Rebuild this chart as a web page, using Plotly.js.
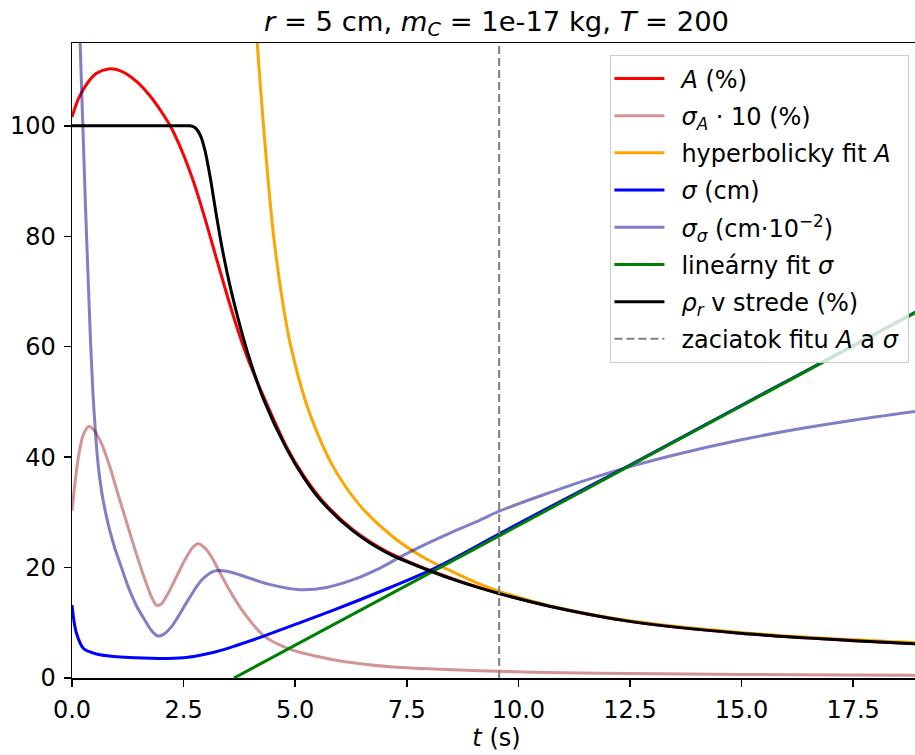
<!DOCTYPE html>
<html>
<head>
<meta charset="utf-8">
<script src="https://cdn.plot.ly/plotly-3.0.1.min.js"></script>
<style>
html, body { margin: 0; padding: 0; overflow: hidden; background: #fff; }
#chart { width: 921px; height: 755px; }
</style>
</head>
<body>
<div id="chart"></div>
<script>
// ---- data ----
// A (%)
const tA = [0, 0.15, 0.35, 0.55, 0.82, 1.1, 1.45, 1.75, 2.0, 2.2, 2.45, 2.7, 2.95, 3.2, 3.45, 3.7, 3.95, 4.29, 4.81, 5.2, 5.6, 6.3, 7.05, 7.95, 8.7, 9.57, 10.7, 12.46, 14.97, 17.43, 19.02];
const vA = [101.6, 105.0, 107.8, 109.5, 110.3, 109.9, 108.0, 105.4, 102.6, 100.0, 95.7, 90.4, 84.0, 77.0, 70.0, 63.4, 57.6, 51.0, 41.8, 36.5, 32.2, 26.8, 22.9, 19.7, 17.5, 15.3, 13.0, 10.3, 8.1, 6.8, 6.15];
// sigma_A * 10 (%)
const tSigA = [0, 0.07, 0.14, 0.25, 0.38, 0.5, 0.66, 0.85, 1.03, 1.22, 1.41, 1.6, 1.75, 1.89, 2.0, 2.15, 2.35, 2.53, 2.7, 2.83, 2.97, 3.12, 3.3, 3.5, 3.87, 4.32, 4.96, 5.5, 6.08, 7.2, 8.69, 9.57, 11.0, 12.5, 15.0, 17.5, 19.02];
const vSigA = [30.3, 35.5, 39.8, 44.0, 45.6, 44.8, 42.5, 38.2, 33.3, 28.3, 23.3, 18.6, 15.3, 13.2, 13.4, 15.3, 18.5, 21.4, 23.6, 24.3, 23.6, 22.0, 19.3, 16.3, 11.6, 7.5, 5.0, 3.9, 3.0, 2.0, 1.45, 1.2, 0.95, 0.8, 0.65, 0.55, 0.48];
// hyperbolic fit of A
const tHyp = [3.95, 4.15, 4.3, 4.51, 4.74, 4.89, 5.22, 5.5, 5.8, 6.1, 6.53, 7.2, 7.95, 8.7, 9.14, 9.57, 10.7, 12.46, 14.97, 17.43, 19.02];
const vHyp = [140, 115.0, 99, 80.5, 67, 60.5, 50.4, 44.3, 39.0, 35.0, 30.5, 25.5, 21.5, 18.6, 17.0, 15.7, 13.1, 10.4, 8.25, 6.95, 6.35];
// sigma (cm)
const tSig = [0, 0.05, 0.10, 0.25, 0.45, 0.66, 1.0, 1.41, 2.15, 2.6, 2.9, 3.25, 3.65, 4.2, 4.9, 5.8, 7.1, 8.0, 8.5, 9.57, 10.5, 12.46, 15.0, 17.5, 19.02];
const vSig = [13.2, 10.0, 8.1, 5.4, 4.6, 4.15, 3.85, 3.67, 3.55, 3.75, 4.15, 4.8, 5.8, 7.3, 9.4, 12.1, 16.3, 19.4, 21.4, 26.1, 30.1, 38.4, 49.4, 60.2, 66.8];
// sigma_sigma (cm·10^-2)
const tSigSig = [0.08, 0.18, 0.30, 0.41, 0.47, 0.53, 0.59, 0.66, 0.74, 0.85, 0.96, 1.1, 1.26, 1.45, 1.63, 1.78, 1.92, 2.05, 2.23, 2.6, 2.9, 3.2, 3.5, 3.9, 4.4, 5.1, 5.7, 6.3, 6.9, 7.42, 8.0, 8.54, 9.14, 9.57, 10.5, 11.5, 12.46, 13.7, 14.97, 16.2, 17.43, 19.02];
const vSigSig = [140, 115.6, 86, 62, 51.5, 44.0, 38.3, 34.0, 30.4, 26.6, 23.5, 20.2, 16.5, 13.0, 10.5, 8.6, 7.6, 7.9, 9.3, 14.1, 17.7, 19.4, 19.3, 18.3, 17.0, 16.0, 16.4, 17.8, 19.9, 22.2, 24.5, 26.5, 28.6, 30.2, 33.0, 35.8, 38.2, 40.8, 43.1, 45.0, 46.6, 48.4];
// linear fit of sigma
const tLin = [3.63, 19.02];
const vLin = [0, 66.7];
// rho_r in the centre (%)
const tRho = [0, 1.5, 2.5, 2.62, 2.70, 2.78, 2.88, 2.98, 3.10, 3.21, 3.36, 3.54, 3.77, 3.97, 4.29, 4.81, 5.2, 5.6, 6.3, 7.05, 7.95, 8.7, 9.57, 10.7, 12.46, 14.97, 17.43, 19.02];
const vRho = [100, 100, 100, 100, 99.9, 99.5, 98.2, 95.5, 90.5, 85.0, 78.0, 71.0, 63.6, 58.0, 50.5, 41.5, 36.2, 31.9, 26.6, 22.7, 19.6, 17.4, 15.3, 13.0, 10.3, 8.1, 6.8, 6.15];
// start of the fit (vertical dashed line)
const tFitStart = [9.57, 9.57];
const vFitStart = [0, 115];

const labels = [
  '<i>A</i> (%)',
  '<i>σ</i><sub><i>A</i></sub> · 10 (%)',
  'hyperbolicky fit <i>A</i>',
  '<i>σ</i> (cm)',
  '<i>σ</i><sub><i>σ</i></sub> (cm·10<sup>−2</sup>)',
  'lineárny fit <i>σ</i>',
  '<i>ρ</i><sub><i>r</i></sub> v strede (%)',
  'zaciatok fitu <i>A</i> a <i>σ</i>\u2009'
];

const FONT = 'DejaVu Sans, Liberation Sans, sans-serif';
const FS = 24;
const LW = 3;

function tr(x, y, name, color, i, extra) {
  return Object.assign({
    x: x, y: y, name: name, type: 'scatter', mode: 'lines',
    line: {color: color, width: LW, shape: 'spline', smoothing: 0.8},
    legendgroup: 'g' + i, hoverinfo: 'skip'
  }, extra || {});
}

const data = [
  tr(tA, vA, labels[0], '#ff0000', 0),
  tr(tSigA, vSigA, labels[1], 'rgba(165,42,42,0.5)', 1),
  tr(tHyp, vHyp, labels[2], '#ffa500', 2),
  tr(tSig, vSig, labels[3], '#0000ff', 3),
  tr(tSigSig, vSigSig, labels[4], 'rgba(0,0,139,0.5)', 4),
  tr(tLin, vLin, labels[5], '#008000', 5, {line: {color: '#008000', width: LW}}),
  tr(tRho, vRho, labels[6], '#000000', 6),
  tr(tFitStart, vFitStart, labels[7], '#808080', 7, {line: {color: '#808080', width: 2, dash: '8px,4px'}})
];

const axisCommon = {
  showline: true, mirror: true, linecolor: '#000', linewidth: 1.5,
  ticks: 'outside', ticklen: 7, tickwidth: 1.5, tickcolor: '#000',
  showgrid: false, zeroline: false,
  tickfont: {family: FONT, size: FS, color: '#000'}
};

const layout = {
  width: 921, height: 755,
  margin: {l: 72, r: 0, t: 43, b: 77},
  paper_bgcolor: '#fff', plot_bgcolor: '#fff',
  font: {family: FONT, color: '#000', size: FS},
  title: {
    text: '<i>r</i> = 5 cm, <i>m</i><sub><i>C</i></sub> = 1e-17 kg, <i>T</i> = 200',
    font: {family: FONT, size: 27.4, color: '#000'},
    x: 0.5, xref: 'paper', y: 0.972, yref: 'container', yanchor: 'middle'
  },
  xaxis: Object.assign({}, axisCommon, {
    range: [0, 19.02], dtick: 2.5, tick0: 0, tickformat: '.1f', ticklabelstandoff: 3,
    title: {text: '<i>t</i> (s)', font: {family: FONT, size: FS, color: '#000'}, standoff: 4}
  }),
  yaxis: Object.assign({}, axisCommon, {
    range: [0, 115], dtick: 20, tick0: 0, ticklabelstandoff: 3
  }),
  showlegend: true,
  legend: {
    x: 0.986, xanchor: 'right', y: 0.981, yanchor: 'top',
    bgcolor: 'rgba(255,255,255,0.8)', bordercolor: '#cccccc', borderwidth: 1.3,
    font: {family: FONT, size: FS, color: '#000'},
    tracegroupgap: 3, itemwidth: 60, traceorder: 'grouped'
  }
};

Plotly.newPlot('chart', data, layout, {staticPlot: true, displayModeBar: false}).then(function () {
  // lengthen the legend line samples to match the reference
  document.querySelectorAll('.legend .legendlines path').forEach(function (p) {
    p.setAttribute('d', 'M3,0h50');
  });
});
</script>
</body>
</html>
